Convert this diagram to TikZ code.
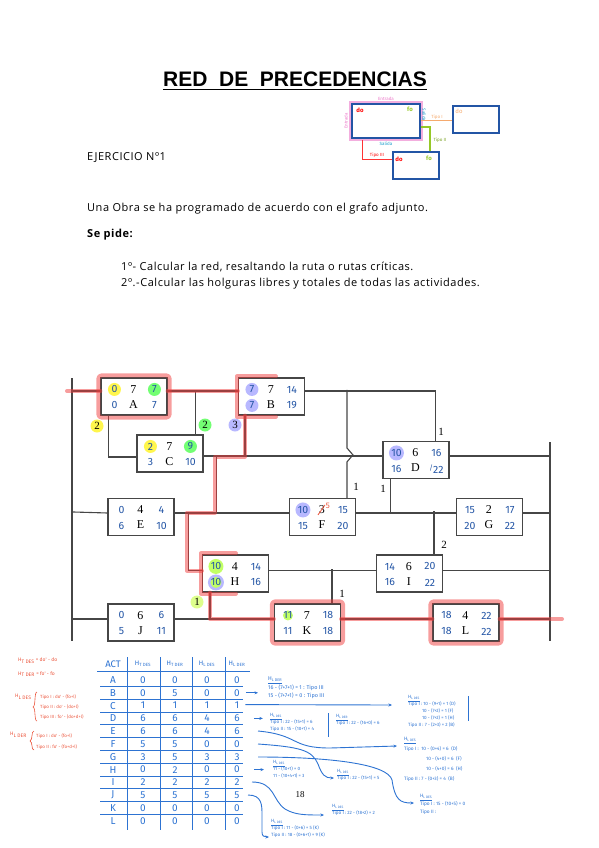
\documentclass[tikz,border=0pt]{standalone}
\usepackage{fontspec}
\setmainfont{Liberation Serif}
\newfontfamily\bodyf[LetterSpace=5]{Open Sans}
\newfontfamily\hand{Fira Sans}
\newfontfamily\titlef{Liberation Sans}
\usetikzlibrary{calc,arrows.meta}
\definecolor{hwblue}{RGB}{35,85,165}
\definecolor{tblue}{RGB}{45,115,210}
\definecolor{nred}{RGB}{235,85,60}
\definecolor{hlred}{RGB}{240,60,60}
\definecolor{lnk}{RGB}{70,70,70}
\definecolor{lgpink}{RGB}{235,120,200}
\definecolor{lgorange}{RGB}{245,170,110}
\definecolor{lggreen}{RGB}{150,200,40}
\pgfdeclarelayer{bg}
\pgfsetlayers{bg,main}
\tikzset{
  abox/.style={draw=lnk, line width=1.1pt, minimum width=66pt, minimum height=37pt, inner sep=0pt},
  hw/.style={font=\hand\fontsize{10.5}{10.5}\selectfont, text=hwblue, inner sep=0pt},
  bk/.style={font=\fontsize{12}{12}\selectfont, inner sep=0pt},
  lk/.style={draw=lnk, line width=1.1pt},
  crit/.style={draw=hlred, opacity=0.5, line width=4pt, line cap=round, line join=round},
  lag/.style={font=\fontsize{11}{11}\selectfont, inner sep=0pt},
  body/.style={font=\bodyf\fontsize{11}{12}\selectfont, inner sep=0pt, anchor=west},
  tb/.style={font=\hand\fontsize{10}{10}\selectfont, text=tblue, inner sep=0pt},
  th/.style={font=\hand\fontsize{6.5}{6.5}\selectfont, text=tblue, inner sep=0pt},
  tl/.style={draw=tblue, line width=0.9pt},
  ta/.style={draw=tblue, line width=0.9pt, -{Stealth[length=3.5pt,width=3pt]}},
  note/.style={font=\hand\fontsize{4.6}{7}\selectfont, text=tblue, inner sep=0pt, anchor=north west, align=left},
  rnote/.style={font=\hand\fontsize{5}{6}\selectfont, text=nred, inner sep=0pt, anchor=west},
  lgt/.style={font=\hand\fontsize{4.5}{4.5}\selectfont, inner sep=0pt},
}
\newcommand\actbox[9]{%
  \node[abox] (#1) at (#2,#3) {};
  \node[hw] (#1-do) at ($(#1.north west)+(14,12)$) {#4};
  \node[bk] (#1-d) at ($(#1.north west)+(33,12)$) {#5};
  \node[hw] (#1-fo) at ($(#1.north west)+(54,12)$) {#6};
  \node[hw] (#1-dp) at ($(#1.north west)+(14,28)$) {#7};
  \node[bk] (#1-n) at ($(#1.north west)+(33,27)$) {#8};
  \node[hw] (#1-fp) at ($(#1.north west)+(54,28)$) {#9};}
\begin{document}
\begin{tikzpicture}[x=1pt,y=-1pt]
\useasboundingbox (0,0) rectangle (599,848);

% ---------- title & statement ----------
\node[font=\titlef\bfseries\fontsize{21}{21}\selectfont, inner sep=0pt] (title) at (295,79) {RED\ \ DE\ \ PRECEDENCIAS};
\draw[line width=1.3pt] ($(title.south west)+(0,3)$) -- ($(title.south east)+(0,3)$);
\node[body] (ej) at (87,158) {EJERCICIO Nº1};
\node[body] (t1) at (87,209) {Una Obra se ha programado de acuerdo con el grafo adjunto.};
\node[body, font=\bodyf\bfseries\fontsize{11}{12}\selectfont] (t2) at (87,235) {Se pide:};
\node[body] (t3) at (121,267) {1º- Calcular la red, resaltando la ruta o rutas críticas.};
\node[body] (t4) at (121,284) {2º.-Calcular las holguras libres y totales de todas las actividades.};

% ---------- legend ----------
\draw[lgpink, line width=2.2pt, opacity=0.6] (350,102) rectangle (422,140);
\node[draw=hwblue, line width=1.3pt, minimum width=68pt, minimum height=34pt, inner sep=0pt] (lg1) at (386,121) {};
\node[draw=hwblue, line width=1.3pt, minimum width=46pt, minimum height=27pt, inner sep=0pt] (lg2) at (476,119.5) {};
\node[draw=hwblue, line width=1.3pt, minimum width=46pt, minimum height=27pt, inner sep=0pt] (lg3) at (416,165.5) {};
\node[lgt, text=red, font=\hand\bfseries\fontsize{6}{6}\selectfont] (lgdo1) at (360,110) {do};
\node[lgt, text=lggreen, font=\hand\bfseries\fontsize{6}{6}\selectfont] (lgfo1) at (410,109) {fo};
\node[lgt, text=lgorange, font=\hand\fontsize{6}{6}\selectfont] (lgdo2) at (459,111) {do};
\node[lgt, text=red, font=\hand\bfseries\fontsize{6}{6}\selectfont] (lgdo3) at (399,159) {do};
\node[lgt, text=lggreen, font=\hand\bfseries\fontsize{6}{6}\selectfont] (lgfo3) at (429,158) {fo};
\node[lgt, text=lgpink] (lgen1) at (386,99) {Entrada};
\node[lgt, text=lgpink, rotate=90] (lgen2) at (346,121) {Entrada};
\node[lgt, text=hwblue!60!cyan] (lgsa1) at (386,143.5) {Salida};
\node[lgt, text=hwblue!60!cyan, rotate=-90] (lgsa2) at (424,115) {Salida};
\coordinate (lgp1) at (421,121);
\coordinate (lgp2) at (421,127);
\coordinate (lgp3) at (362,140);
\draw[lgorange, line width=1pt] (lgp1) -- (lg2.west |- lgp1);
\node[lgt, text=lgorange] (lgti1) at (437,117) {Tipo I};
\draw[lggreen, line width=1.2pt] (lgp2) -| ($(lg3.north)+(14,0)$);
\node[lgt, text=lggreen!80!black] (lgti2) at (440,140) {Tipo II};
\draw[red!80, line width=1pt] (lgp3) |- ($(lg3.west)+(0,-6)$);
\node[lgt, text=red] (lgti3) at (377,155.5) {Tipo III};

% ---------- activity boxes ----------
\actbox{A}{134}{396.5}{0}{7}{7}{0}{A}{7}
\actbox{B}{271.5}{396.5}{7}{7}{14}{7}{B}{19}
\actbox{C}{170}{453.5}{2}{7}{9}{3}{C}{10}
\actbox{D}{416}{460}{10}{6}{16}{16}{D}{\raisebox{3pt}{\fontsize{7}{7}\selectfont/}22}
\actbox{E}{141}{517}{0}{4}{4}{6}{E}{10}
\actbox{F}{322.5}{517}{10}{3}{15}{15}{F}{20}
\actbox{G}{489.5}{517}{15}{2}{17}{20}{G}{22}
\actbox{H}{235.5}{573.5}{10}{4}{14}{10}{H}{16}
\actbox{I}{409.5}{573.5}{14}{6}{20}{16}{I}{22}
\actbox{J}{141}{622.5}{0}{6}{6}{5}{J}{11}
\actbox{K}{307.5}{622.5}{11}{7}{18}{11}{K}{18}
\actbox{L}{466}{622.5}{18}{4}{22}{18}{L}{22}
\draw[nred, line width=0.8pt] ($(F-d)+(-4,5)$) -- ($(F-d)+(3,-5)$);
\node[font=\hand\fontsize{8}{8}\selectfont, text=nred, inner sep=0pt] (F-d5) at ($(F-d)+(6,-4)$) {5};

% ---------- lag labels ----------
\node[lag] (lgAC) at (97,426) {2};
\node[lag] (lgAC2) at (205,425) {2};
\node[lag] (lgBC) at (235,425) {3};
\node[lag] (lgBD) at (441,432) {1};
\node[lag] (lgBF) at (356,487) {1};
\node[lag] (lgDG) at (383,489) {1};
\node[lag] (lgGI) at (444,545) {2};
\node[lag] (lgHK) at (342,594) {1};
\node[lag] (lgHK2) at (197,602) {1};

% ---------- highlight circles ----------
\begin{pgfonlayer}{bg}
\fill[yellow!70] (A-do) circle (6.5);
\fill[green!55] (A-fo) circle (6.5);
\fill[blue!28] (B-do) circle (6.5);
\fill[blue!28] (B-dp) circle (6.5);
\fill[yellow!70] (C-do) circle (6.5);
\fill[green!55] (C-fo) circle (6.5);
\fill[blue!28] (D-do) circle (7.5);
\fill[blue!28] (F-do) circle (7.5);
\fill[green!40!yellow!60] (H-do) circle (7.5);
\fill[blue!28] (H-dp) circle (8);
\fill[green!40!yellow!60] (H-dp) circle (5.5);
\fill[green!40!yellow!60] (K-do) circle (5);
\fill[yellow!70] (lgAC) circle (6.5);
\fill[green!55] (lgAC2) circle (6.5);
\fill[blue!28] (lgBC) circle (6.5);
\fill[green!30!yellow!45] (lgHK2) circle (6.5);
\end{pgfonlayer}

% ---------- connectors ----------
\coordinate (L0) at (72,378);
\coordinate (L1) at (72,641);
\coordinate (R0) at (550,442);
\coordinate (R1) at (550,641);
\coordinate (S0) at (67,391);
\coordinate (LE) at (562,619);
\draw[lk] (L0) -- (L1);
\draw[lk] (R0) -- (R1);
\draw[lk] (L0 |- S0) -- ($(A.west)+(0,-5.5)$);
\draw[lk] ($(A.east)+(0,-5.5)$) -- ($(B.west)+(0,-5.5)$);
\draw[lk] ($(A.south west)+(8,0)$) |- ($(C.west)+(0,3.5)$);
\draw[lk] ($(C.north east)+(-8,0)$) -- ++(0,-44);
\draw[lk] ($(B.east)+(0,-5.5)$) -| ($(D.north east)+(-14,0)$);
\draw[lk] ($(F.north west)+(58,0)$) -- ++(0,-36) -- ++(6,-7) -- ++(-6,-7) -- ++(0,-58);
\draw[lk] ($(C.east)+(0,2.5)$) -- ($(D.west)+(0,-4)$);
\draw[lk] ($(B.south west)+(7,0)$) -- ++(0,41);
\draw[lk] ($(E.east)+(42,-4)$) -- ++(0,-57);
\draw[lk] ($(E.east)+(14,-4)$) |- ($(H.west)+(0,-3)$);
\draw[lk] (L0 |- E-do) ++(0,2) -- ($(E.west)+(0,-4)$);
\draw[lk] ($(E.east)+(0,-4)$) -- ($(F.west)+(0,-4)$);
\draw[lk] ($(F.east)+(0,-4)$) -- ($(G.west)+(0,-4)$);
\draw[lk] ($(G.east)+(0,-4)$) -- ($(R0 |- G.east)+(0,-4)$);
\draw[lk] ($(D.east)+(0,-4)$) -- ($(R0 |- D.east)+(0,-4)$);
\draw[lk] ($(D.south west)+(8,0)$) -- ++(0,35);
\draw[lk] ($(I.north west)+(58,0)$) -- ++(0,-43);
\draw[lk] ($(H.east)+(0,-3)$) -- ($(I.west)+(0,-3)$);
\draw[lk] ($(I.east)+(0,-3)$) -- ($(R0 |- I.east)+(0,-3)$);
\draw[lk] ($(K.north west)+(58,0)$) -- ++(0,-34);
\draw[lk] ($(L0 |- J.west)+(0,-3.5)$) -- ($(J.west)+(0,-3.5)$);
\draw[lk] ($(J.east)+(0,-3.5)$) -- ($(K.west)+(0,-3.5)$);
\draw[lk] ($(H.south west)+(8,0)$) |- ($(K.west)+(0,-3.5)$);
\draw[lk] ($(K.east)+(0,-3.5)$) -- ($(L.west)+(0,-3.5)$);
\draw[lk] ($(L.east)+(0,-3.5)$) -- ($(R0 |- L.east)+(0,-3.5)$);

% ---------- critical path ----------
\draw[crit] (S0) -- ($(A.west)+(0,-5.5)$);
\draw[crit] ($(A.east)+(0,-5.5)$) -- ($(B.west)+(0,-5.5)$);
\draw[crit] ($(B.south west)+(7,0)$) -- ++(0,41) -- ++(-30,0) -- ++(0,56) -- ++(-28,0) |- ($(H.west)+(0,-3)$);
\draw[crit] ($(H.south west)+(8,0)$) |- ($(K.west)+(0,-3.5)$);
\draw[crit] ($(K.east)+(0,-3.5)$) -- ($(L.west)+(0,-3.5)$);
\draw[crit] ($(L.east)+(0,-3.5)$) -- (LE);
\draw[crit, rounded corners=3pt] ($(A.south west)+(-2,2)$) rectangle ($(A.north east)+(2,-2)$);
\draw[crit, rounded corners=3pt] ($(K.south west)+(-2,2)$) rectangle ($(K.north east)+(2,-2)$);
\draw[crit, rounded corners=3pt] ($(L.south west)+(-2,2)$) rectangle ($(L.north east)+(2,-2)$);
\draw[crit] ($(B.north west)+(38,-1)$) -- ($(B.north west)+(-1,-1)$) -- ($(B.south west)+(-1,1)$) -- ($(B.south west)+(38,1)$);
\draw[crit] ($(H.north west)+(34,-1)$) -- ($(H.north west)+(-1,-1)$) -- ($(H.south west)+(-1,1)$) -- ($(H.south west)+(34,1)$);

% ---------- red formulas ----------
\node[rnote] (f1) at (18,661) {H\textsubscript{T DES} = do' - do};
\node[rnote] (f2) at (18,674) {H\textsubscript{T DER} = fo' - fo};
\node[rnote] (f3) at (15,697) {H\textsubscript{L DES}};
\draw[nred, line width=0.6pt] (37,692) .. controls (34,692) and (36,706) .. (33,707) .. controls (36,708) and (34,721) .. (37,721);
\node[rnote, font=\hand\fontsize{4.5}{5}\selectfont] (f3a) at (40,697) {Tipo I : do' - (fo+l)};
\node[rnote, font=\hand\fontsize{4.5}{5}\selectfont] (f3b) at (40,707) {Tipo II : do' - (do+l)};
\node[rnote, font=\hand\fontsize{4.5}{5}\selectfont] (f3c) at (40,717) {Tipo III : fo' - (do+d+l)};
\node[rnote] (f4) at (10,735) {H\textsubscript{L DER}};
\draw[nred, line width=0.6pt] (34,731) .. controls (31,731) and (33,740) .. (30,741) .. controls (33,742) and (31,750) .. (34,750);
\node[rnote, font=\hand\fontsize{4.5}{5}\selectfont] (f4a) at (36,736) {Tipo I : do' - (fo+l)};
\node[rnote, font=\hand\fontsize{4.5}{5}\selectfont] (f4b) at (36,747) {Tipo II : fo' - (fo+d+l)};

% ---------- table ----------
\node[tb, font=\hand\fontsize{9.5}{9.5}\selectfont] (hACT) at (113,664) {ACT};
\node[th] (hTD) at (143,664) {H\textsubscript{T DES}};
\node[th] (hTR) at (175,664) {H\textsubscript{T DER}};
\node[th] (hLD) at (207,664) {H\textsubscript{L DES}};
\node[th] (hLR) at (237,664) {H\textsubscript{L DER}};
\foreach \xx in {127,160,192,225} \draw[tl] (\xx,657) -- (\xx,830);
\draw[tl] (97,671) -- (250,671);
\foreach \i in {1,...,11} {
  \pgfmathsetmacro\yy{686.4+12.8*(\i-1)}
  \draw[tl] (100,\yy) -- (243,\yy);
}
\foreach \a/\b/\c/\d/\e [count=\i] in {A/0/0/0/0, B/0/5/0/0, C/1/1/1/1, D/6/6/4/6, E/6/6/4/6, F/5/5/0/0, G/3/5/3/3, H/0/2/0/0, I/2/2/2/2, J/5/5/5/5, K/0/0/0/0, L/0/0/0/0} {
  \pgfmathsetmacro\yy{680+12.8*(\i-1)}
  \node[tb] (r\i a) at (113,\yy) {\a};
  \node[tb] (r\i b) at (143,\yy) {\b};
  \node[tb] (r\i c) at (175,\yy) {\c};
  \node[tb] (r\i d) at (207,\yy) {\d};
  \node[tb] (r\i e) at (237,\yy) {\e};
}

% ---------- blue notes ----------
\node[note, font=\hand\fontsize{5.5}{7.5}\selectfont] (nB) at (268,677) {\underline{H\textsubscript{L DER}}\\16 - (7+7+1) = 1 : Tipo III\\15 - (7+7+1) = 0 : Tipo III};
\draw[ta] (r2e.east) ++(6,0) -- ++(12,0);
\draw[ta] (r3e.east) ++(6,-1) -- (392,705);
\node[note] (nC) at (408,695) {\underline{H\textsubscript{L DES}}\\Tipo I : 10 - (9+1) = 1 (D)\\\hspace*{14pt}10 - (7+2) = 1 (F)\\\hspace*{14pt}10 - (7+2) = 1 (H)\\Tipo II : 7 - (2+3) = 2 (B)};
\draw[tl] (468,696) -- (468,721);
\draw[ta] (r4e.east) ++(14,0) -- ++(9,0);
\node[note] (nD) at (270,713) {\underline{H\textsubscript{L DES}}\\Tipo I : 22 - (15+1) = 6\\Tipo II : 15 - (10+1) = 4};
\draw[tl] (328,713) -- (328,737);
\node[note] (nD2) at (336,714) {\underline{H\textsubscript{L DER}}\\Tipo I : 22 - (16+0) = 6};
\draw[ta] (258,731) .. controls (300,735) and (290,748) .. (330,748) -- (397,746);
\node[note, font=\hand\fontsize{4.8}{10}\selectfont] (nE) at (404,737) {\underline{H\textsubscript{L DES}}\\Tipo I : \ 10 - (0+4) = 6 \ (D)\\\hspace*{22pt}10 - (4+0) = 6 \ (F)\\\hspace*{22pt}10 - (4+0) = 6 \ (H)\\Tipo II : 7 - (0+3) = 4 \ (B)};
\draw[ta] (258,744) .. controls (300,747) and (312,750) .. (318,764) .. controls (322,775) and (325,778) .. (334,778);
\node[note] (nF) at (337,769) {\underline{H\textsubscript{L DES}}\\Tipo I : 22 - (15+1) = 5};
\draw[ta] (258,757) .. controls (330,757) and (388,764) .. (392,780) .. controls (395,800) and (400,803) .. (414,803);
\node[note, font=\hand\fontsize{4.8}{8}\selectfont] (nG) at (420,794) {\underline{H\textsubscript{L DES}}\\Tipo I : 15 - (10+5) = 0\\Tipo II :};
\draw[ta] (r8e.east) ++(14,0) -- ++(10,0);
\node[note] (nH) at (273,760) {\underline{H\textsubscript{L DES}}\\11 - (10+1) = 0\\11 - (10+4+1) = 3};
\draw[ta] (252,782) .. controls (275,782) and (272,800) .. (285,809) .. controls (295,815) and (305,815) .. (324,815);
\node[note] (nI) at (332,804) {\underline{H\textsubscript{L DES}}\\Tipo I : 22 - (18+2) = 2};
\draw[ta] (248,795) .. controls (262,795) and (262,805) .. (262,815) -- (262,832) .. controls (262,836) and (264,837) .. (269,837);
\node[note] (nJ) at (271,819) {\underline{H\textsubscript{L DES}}\\Tipo I : 11 - (0+6) = 5 (K)\\Tipo II : 18 - (0+6+1) = 9 (K)};
\node[font=\fontsize{9}{9}\selectfont, inner sep=0pt] (n18) at (300,795) {18};
\end{tikzpicture}
\end{document}
